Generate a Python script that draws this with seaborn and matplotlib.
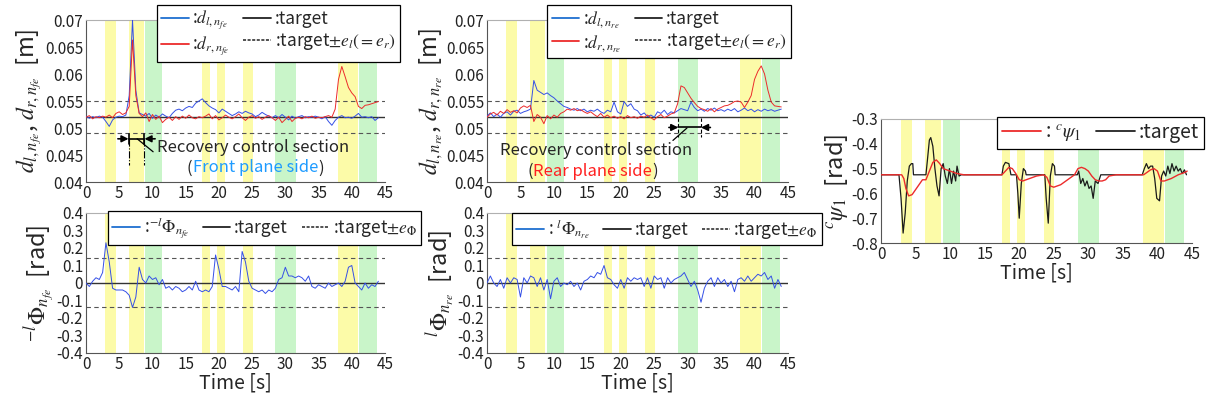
import numpy as np
import pandas as pd
import matplotlib
matplotlib.use('Agg')
import matplotlib.pyplot as plt
from matplotlib.ticker import FuncFormatter, MultipleLocator
from matplotlib.lines import Line2D
import seaborn as sns

#%% Daten

# Zeitachse für die verrauschten Signale (0.5 s Schritte)
t_grid = np.arange(0, 44.5, 0.5)

# farbige Abschnitte (gelb / grün)
yellow_start = [2.9, 6.4, 17.5, 19.7, 23.6, 37.9]
yellow_end = [4.5, 8.7, 18.7, 20.9, 25.1, 40.9]
green_start = [8.9, 28.5, 41.1]
green_end = [11.5, 31.6, 43.8]

# vorne: Abstand links / rechts [m]
d_l_fe = [0.0522, 0.0518, 0.0521, 0.0519, 0.0522, 0.0520, 0.0512, 0.0503, 0.0515, 0.0520,
          0.0522, 0.0521, 0.0524, 0.0560, 0.0700, 0.0570, 0.0528, 0.0525, 0.0522, 0.0527,
          0.0518, 0.0524, 0.0520, 0.0526, 0.0522, 0.0519, 0.0527, 0.0533, 0.0535, 0.0532,
          0.0537, 0.0540, 0.0538, 0.0546, 0.0550, 0.0554, 0.0547, 0.0541, 0.0537, 0.0534,
          0.0528, 0.0535, 0.0531, 0.0527, 0.0523, 0.0526, 0.0530, 0.0527, 0.0531, 0.0528,
          0.0526, 0.0521, 0.0524, 0.0529, 0.0525, 0.0522, 0.0519, 0.0523, 0.0519, 0.0525,
          0.0520, 0.0515, 0.0522, 0.0518, 0.0521, 0.0523, 0.0519, 0.0521, 0.0520, 0.0522,
          0.0520, 0.0517, 0.0521, 0.0512, 0.0505, 0.0514, 0.0520, 0.0523, 0.0519, 0.0520,
          0.0518, 0.0522, 0.0527, 0.0520, 0.0521, 0.0519, 0.0521, 0.0514, 0.0519]
d_r_fe = [0.0520, 0.0523, 0.0517, 0.0521, 0.0519, 0.0522, 0.0520, 0.0524, 0.0519, 0.0527,
          0.0530, 0.0525, 0.0528, 0.0540, 0.0663, 0.0560, 0.0527, 0.0521, 0.0528, 0.0512,
          0.0525, 0.0516, 0.0522, 0.0510, 0.0516, 0.0520, 0.0514, 0.0521, 0.0516, 0.0522,
          0.0518, 0.0524, 0.0519, 0.0517, 0.0521, 0.0519, 0.0522, 0.0526, 0.0517, 0.0523,
          0.0515, 0.0519, 0.0524, 0.0520, 0.0517, 0.0521, 0.0526, 0.0519, 0.0514, 0.0520,
          0.0523, 0.0518, 0.0521, 0.0516, 0.0520, 0.0523, 0.0519, 0.0514, 0.0520, 0.0510,
          0.0516, 0.0522, 0.0512, 0.0518, 0.0520, 0.0517, 0.0521, 0.0519, 0.0522, 0.0518,
          0.0520, 0.0519, 0.0521, 0.0523, 0.0520, 0.0535, 0.0590, 0.0614, 0.0595, 0.0575,
          0.0565, 0.0558, 0.0540, 0.0536, 0.0542, 0.0543, 0.0545, 0.0547, 0.0549]

# vorne: Winkel [rad]
phi_fe = [0.00, -0.02, 0.01, 0.03, 0.02, 0.06, 0.23, 0.12, -0.03, -0.04,
          -0.04, -0.04, -0.05, -0.07, -0.14, -0.08, 0.09, 0.02, 0.00, 0.04,
          0.02, 0.03, -0.01, 0.02, -0.03, -0.02, -0.04, -0.02, -0.03, -0.05,
          -0.04, -0.02, -0.04, 0.01, -0.04, -0.05, -0.04, -0.05, -0.02, 0.16,
          0.08, -0.02, -0.02, -0.03, -0.04, -0.02, -0.05, 0.18, 0.12, 0.01,
          -0.03, -0.04, -0.05, -0.04, -0.06, -0.04, -0.05, -0.03, 0.02, 0.03,
          0.09, 0.04, 0.04, 0.03, 0.04, 0.03, 0.01, 0.04, -0.02, -0.03,
          -0.01, -0.02, -0.03, 0.00, -0.02, -0.01, 0.00, -0.02, 0.01, 0.09,
          0.10, 0.00, -0.02, -0.04, 0.00, -0.03, -0.01, -0.02, 0.01]

# hinten: Abstand links / rechts [m]
d_l_re = [0.0522, 0.0528, 0.0521, 0.0526, 0.0520, 0.0527, 0.0530, 0.0524, 0.0531, 0.0533,
          0.0527, 0.0530, 0.0532, 0.0535, 0.0588, 0.0570, 0.0566, 0.0562, 0.0565, 0.0560,
          0.0556, 0.0550, 0.0545, 0.0540, 0.0538, 0.0535, 0.0533, 0.0536, 0.0532, 0.0535,
          0.0530, 0.0533, 0.0531, 0.0535, 0.0530, 0.0527, 0.0533, 0.0530, 0.0548, 0.0530,
          0.0526, 0.0549, 0.0540, 0.0545, 0.0535, 0.0532, 0.0524, 0.0528, 0.0521, 0.0524,
          0.0520, 0.0530, 0.0527, 0.0533, 0.0525, 0.0530, 0.0528, 0.0532, 0.0536, 0.0534,
          0.0532, 0.0548, 0.0538, 0.0532, 0.0535, 0.0531, 0.0536, 0.0533, 0.0537, 0.0532,
          0.0534, 0.0531, 0.0535, 0.0532, 0.0536, 0.0530, 0.0533, 0.0537, 0.0532, 0.0535,
          0.0530, 0.0534, 0.0531, 0.0535, 0.0532, 0.0534, 0.0531, 0.0533, 0.0535]
d_r_re = [0.0520, 0.0526, 0.0529, 0.0524, 0.0531, 0.0527, 0.0534, 0.0529, 0.0532, 0.0528,
          0.0537, 0.0541, 0.0538, 0.0542, 0.0512, 0.0525, 0.0520, 0.0508, 0.0523, 0.0517,
          0.0524, 0.0520, 0.0527, 0.0530, 0.0535, 0.0533, 0.0536, 0.0532, 0.0534, 0.0530,
          0.0527, 0.0530, 0.0525, 0.0521, 0.0527, 0.0520, 0.0524, 0.0519, 0.0522, 0.0518,
          0.0521, 0.0517, 0.0523, 0.0519, 0.0521, 0.0518, 0.0522, 0.0520, 0.0524, 0.0519,
          0.0515, 0.0521, 0.0525, 0.0519, 0.0522, 0.0526, 0.0528, 0.0545, 0.0578, 0.0575,
          0.0565, 0.0555, 0.0547, 0.0540, 0.0536, 0.0534, 0.0531, 0.0536, 0.0530, 0.0535,
          0.0538, 0.0541, 0.0542, 0.0545, 0.0549, 0.0550, 0.0548, 0.0538, 0.0548, 0.0560,
          0.0590, 0.0605, 0.0615, 0.0600, 0.0570, 0.0548, 0.0541, 0.0540, 0.0539]

# hinten: Winkel [rad]
phi_re = [0.00, 0.04, 0.00, -0.02, 0.02, -0.03, 0.03, 0.00, 0.03, 0.02,
          -0.08, 0.03, 0.00, 0.04, 0.03, -0.02, 0.03, -0.04, 0.02, -0.09,
          0.01, 0.03, -0.02, 0.00, -0.01, 0.01, -0.02, 0.00, -0.04, 0.01,
          0.02, 0.04, 0.03, 0.06, 0.05, 0.10, 0.03, 0.02, -0.01, -0.03,
          0.02, -0.03, 0.03, 0.01, 0.03, 0.02, 0.03, -0.02, 0.03, -0.03,
          0.04, 0.02, 0.03, -0.03, 0.03, 0.00, 0.02, 0.03, 0.04, 0.06,
          0.02, -0.02, 0.01, -0.04, -0.11, -0.03, 0.01, 0.03, -0.02, 0.03,
          0.00, 0.02, -0.02, 0.01, -0.05, 0.02, 0.03, 0.01, 0.04, 0.01,
          0.03, 0.05, 0.04, 0.06, 0.02, 0.04, -0.03, 0.02, -0.02]

# psi: Zielwert (schwarz) und Istwert (rot)
psi_target_time = [0, 2.6, 2.9, 3.2, 3.5, 3.8, 4.1, 4.4, 4.6, 4.7, 6.5, 6.7, 7.0, 7.2, 7.5, 7.8,
                   8.1, 8.4, 8.7, 9.0, 9.3, 9.6, 9.9, 10.2, 10.5, 10.8, 11.0, 11.3, 11.6,
                   17.5, 17.7, 18.0, 18.5, 18.8, 19.6, 19.8, 20.0, 20.3, 20.6, 20.9, 21.0,
                   23.7, 23.9, 24.2, 24.5, 24.8, 25.1, 25.2, 28.4, 28.6, 28.9, 29.2, 29.5,
                   29.8, 30.1, 30.4, 30.7, 31.0, 31.4, 31.8, 37.8, 38.1, 38.4, 38.7, 39.0,
                   39.3, 39.6, 39.9, 40.3, 40.6, 40.9, 41.2, 41.5, 41.8, 42.1, 42.4, 42.7,
                   43.0, 43.3, 43.6, 43.9, 44.2]
psi_target = [-0.525, -0.525, -0.62, -0.76, -0.68, -0.55, -0.49, -0.48, -0.48, -0.525, -0.525,
              -0.47, -0.385, -0.375, -0.41, -0.50, -0.57, -0.61, -0.50, -0.48, -0.53, -0.56,
              -0.50, -0.56, -0.51, -0.55, -0.49, -0.53, -0.525,
              -0.525, -0.49, -0.475, -0.48, -0.525, -0.525, -0.60, -0.70, -0.56, -0.50, -0.51,
              -0.525, -0.525, -0.62, -0.72, -0.53, -0.48, -0.49, -0.525, -0.525, -0.51, -0.56,
              -0.54, -0.57, -0.55, -0.58, -0.57, -0.62, -0.55, -0.56, -0.525, -0.525, -0.50,
              -0.48, -0.50, -0.49, -0.49, -0.54, -0.62, -0.63, -0.53, -0.51, -0.53, -0.49,
              -0.52, -0.48, -0.51, -0.49, -0.51, -0.50, -0.52, -0.505, -0.525]
psi_time = [0, 3.0, 3.3, 3.6, 4.0, 4.5, 5.0, 5.5, 6.0, 6.5, 7.0, 7.5, 8.0, 8.5, 9.0, 9.5, 10.0,
            11.0, 12.0, 17.5, 18.0, 18.5, 19.0, 19.5, 20.0, 20.5, 21.5, 22.5, 23.5, 24.0, 24.5,
            25.0, 26.0, 27.0, 28.0, 28.5, 29.0, 29.5, 30.0, 30.5, 31.0, 31.5, 32.0, 32.5, 33.0,
            34.0, 38.0, 38.5, 39.0, 39.5, 40.0, 40.5, 41.0, 42.0, 43.0, 44.0, 44.3]
psi_1 = [-0.525, -0.525, -0.54, -0.58, -0.61, -0.605, -0.585, -0.565, -0.545, -0.545, -0.51,
         -0.475, -0.465, -0.48, -0.50, -0.505, -0.51, -0.52, -0.525, -0.525, -0.51, -0.495,
         -0.50, -0.52, -0.545, -0.55, -0.54, -0.53, -0.525, -0.535, -0.57, -0.575, -0.565,
         -0.545, -0.525, -0.50, -0.495, -0.50, -0.51, -0.53, -0.545, -0.55, -0.55, -0.545,
         -0.53, -0.525, -0.525, -0.515, -0.505, -0.50, -0.51, -0.55, -0.55, -0.54, -0.525,
         -0.515, -0.51]

# Zielwerte und Toleranzen
d_target = 0.052
e_d = 0.003
phi_target = 0.0
e_phi = 0.14

#%% Stil

sns.set_style('white')
plt.rcParams['font.family'] = ['Noto Sans CJK JP', 'DejaVu Sans']
plt.rcParams['mathtext.fontset'] = 'stix'
plt.rcParams['axes.unicode_minus'] = False

BLUE = '#3550E6'
RED = '#EC2B2B'
YELLOW = '#FCFBA8'
GREEN = '#C9F5C9'
FRONT_BLUE = '#1E9BFF'


def fmt(v, pos):
    return f'{round(v, 4) + 0:g}'


def setup_axes(ax, ylim, ystep):
    for s, e in zip(yellow_start, yellow_end):
        ax.axvspan(s, e, color=YELLOW, lw=0, zorder=0)
    for s, e in zip(green_start, green_end):
        ax.axvspan(s, e, color=GREEN, lw=0, zorder=0)
    ax.set_xlim(0, 45)
    ax.set_ylim(*ylim)
    ax.xaxis.set_major_locator(MultipleLocator(5))
    ax.yaxis.set_major_locator(MultipleLocator(ystep))
    ax.yaxis.set_major_formatter(FuncFormatter(fmt))
    ax.tick_params(direction='in', length=3, labelsize=11, colors='#222222', pad=2)
    ax.spines['right'].set_visible(False)
    ax.spines['top'].set_color('#b0b0b0')
    for s in ['left', 'bottom']:
        ax.spines[s].set_color('#555555')
        ax.spines[s].set_linewidth(0.8)


def ref_lines(ax, target, err):
    ax.axhline(target, color='#333333', lw=1.0, zorder=2)
    ax.axhline(target + err, color='#555555', lw=0.8, ls=(0, (4, 3)), zorder=2)
    ax.axhline(target - err, color='#555555', lw=0.8, ls=(0, (4, 3)), zorder=2)


def make_legend(ax, handles, labels, anchor, ncol, size=12.5, hlen=1.6):
    leg = ax.legend(handles, labels, loc='upper left', bbox_to_anchor=anchor, ncol=ncol,
                    fontsize=size, frameon=True, fancybox=False, framealpha=1,
                    edgecolor='black', borderaxespad=0, handlelength=hlen,
                    handletextpad=0.2, columnspacing=0.8, labelspacing=0.15,
                    borderpad=0.25)
    leg.get_frame().set_linewidth(0.9)
    leg.set_zorder(10)


h_blue = Line2D([], [], color='#1f6fd0', lw=1.3)
h_red = Line2D([], [], color=RED, lw=1.3)
h_black = Line2D([], [], color='#222222', lw=1.3)
h_dash = Line2D([], [], color='#222222', lw=1.1, ls=(0, (2, 1)))

fig = plt.figure(figsize=(12.13, 4.05), dpi=100)
ax1 = fig.add_axes([0.0709, 0.5506, 0.2465, 0.400])
ax2 = fig.add_axes([0.0709, 0.1284, 0.2465, 0.3457])
ax3 = fig.add_axes([0.4015, 0.5506, 0.2481, 0.400])
ax4 = fig.add_axes([0.4015, 0.1284, 0.2481, 0.3457])
ax5 = fig.add_axes([0.7263, 0.4000, 0.2564, 0.3062])

#%% Abstand vorne

setup_axes(ax1, (0.04, 0.07), 0.005)
ref_lines(ax1, d_target, e_d)
sns.lineplot(x=t_grid, y=d_l_fe, ax=ax1, color=BLUE, lw=0.7, legend=False, zorder=3)
sns.lineplot(x=t_grid, y=d_r_fe, ax=ax1, color=RED, lw=0.7, legend=False, zorder=3)
ax1.set_ylabel('$d_{l,n_{fe}}$, $d_{r,n_{fe}}$  [m]', fontsize=17, labelpad=1)
make_legend(ax1, [h_blue, h_red, h_black, h_dash],
            [':$d_{l,n_{fe}}$', ':$d_{r,n_{fe}}$', ':target', ':target$\\pm e_l(=e_r)$'],
            (0.237, 1.093), 2)

# Markierung des Wiederherstellungsabschnitts
arrow = dict(arrowstyle='-|>', color='k', lw=1.2, mutation_scale=10, shrinkA=0, shrinkB=0)
ax1.annotate('', xy=(6.4, 0.048), xytext=(4.8, 0.048), arrowprops=arrow)
ax1.annotate('', xy=(8.8, 0.048), xytext=(10.4, 0.048), arrowprops=arrow)
ax1.plot([6.4, 8.8], [0.048, 0.048], color='k', lw=1.2)
for xb in [6.4, 8.8]:
    ax1.plot([xb, xb], [0.0489, 0.0471], color='k', lw=1.2)
    ax1.plot([xb, xb], [0.048, 0.0432], color='k', lw=0.8, ls='-.')
ax1.plot([7.7, 10.1], [0.0480, 0.0456], color='k', lw=0.9)
ax1.text(10.7, 0.0463, 'Recovery control section', fontsize=12, va='center', ha='left')
p1 = ax1.text(15.2, 0.0426, '(', fontsize=12, va='center', ha='left')
p2 = ax1.annotate('Front plane side', xy=(1, 0), xycoords=p1, va='bottom', fontsize=12,
                  color=FRONT_BLUE)
ax1.annotate(')', xy=(1, 0), xycoords=p2, va='bottom', fontsize=12)

#%% Winkel vorne

setup_axes(ax2, (-0.4, 0.4), 0.1)
ref_lines(ax2, phi_target, e_phi)
sns.lineplot(x=t_grid, y=phi_fe, ax=ax2, color=BLUE, lw=0.7, legend=False, zorder=3)
ax2.set_ylabel('${}^{-l}\\mathit{\\Phi}_{n_{fe}}$  [rad]', fontsize=17, labelpad=1)
ax2.set_xlabel('Time [s]', fontsize=14, labelpad=0)
make_legend(ax2, [h_blue, h_black, h_dash],
            [':${}^{-l}\\mathit{\\Phi}_{n_{fe}}$', ':target', ':target$\\pm e_{\\mathit{\\Phi}}$'],
            (0.074, 1.014), 3)

#%% Abstand hinten

setup_axes(ax3, (0.04, 0.07), 0.005)
ref_lines(ax3, d_target, e_d)
sns.lineplot(x=t_grid, y=d_l_re, ax=ax3, color=BLUE, lw=0.7, legend=False, zorder=3)
sns.lineplot(x=t_grid, y=d_r_re, ax=ax3, color=RED, lw=0.7, legend=False, zorder=3)
ax3.set_ylabel('$d_{l,n_{re}}$, $d_{r,n_{re}}$  [m]', fontsize=17, labelpad=1)
make_legend(ax3, [h_blue, h_red, h_black, h_dash],
            [':$d_{l,n_{re}}$', ':$d_{r,n_{re}}$', ':target', ':target$\\pm e_l(=e_r)$'],
            (0.2, 1.093), 2)

ax3.annotate('', xy=(28.6, 0.0501), xytext=(27.2, 0.0501), arrowprops=arrow)
ax3.annotate('', xy=(32.0, 0.0501), xytext=(33.4, 0.0501), arrowprops=arrow)
ax3.plot([28.6, 32.0], [0.0501, 0.0501], color='k', lw=1.2)
for xb in [28.6, 32.0]:
    ax3.plot([xb, xb], [0.0518, 0.0483], color='k', lw=0.8, ls=(0, (3, 2)))
ax3.plot([29.9, 27.8], [0.0500, 0.0477], color='k', lw=0.9)
ax3.text(16.3, 0.0459, 'Recovery control section', fontsize=12, va='center', ha='center')
q1 = ax3.text(6.1, 0.0420, '(', fontsize=12, va='center', ha='left')
q2 = ax3.annotate('Rear plane side', xy=(1, 0), xycoords=q1, va='bottom', fontsize=12,
                  color='#FF2020')
ax3.annotate(')', xy=(1, 0), xycoords=q2, va='bottom', fontsize=12)

#%% Winkel hinten

setup_axes(ax4, (-0.4, 0.4), 0.1)
ref_lines(ax4, phi_target, e_phi)
sns.lineplot(x=t_grid, y=phi_re, ax=ax4, color=BLUE, lw=0.7, legend=False, zorder=3)
ax4.set_ylabel('${}^{l}\\mathit{\\Phi}_{n_{re}}$  [rad]', fontsize=17, labelpad=1)
ax4.set_xlabel('Time [s]', fontsize=14, labelpad=0)
make_legend(ax4, [h_blue, h_black, h_dash],
            [': ${}^{l}\\mathit{\\Phi}_{n_{re}}$', ':target', ':target$\\pm e_{\\mathit{\\Phi}}$'],
            (0.083, 1.0), 3)

#%% psi

setup_axes(ax5, (-0.8, -0.3), 0.1)
sns.lineplot(x=psi_target_time, y=psi_target, ax=ax5, color='#1a1a1a', lw=0.9,
             legend=False, zorder=3)
sns.lineplot(x=psi_time, y=psi_1, ax=ax5, color=RED, lw=1.0, legend=False, zorder=4)
ax5.set_ylabel('${}^{c}\\psi_1$  [rad]', fontsize=17, labelpad=1)
ax5.set_xlabel('Time [s]', fontsize=14, labelpad=0)
make_legend(ax5, [h_red, h_black], [': ${}^{c}\\psi_1$', ':target'], (0.373, 1.016), 2,
            size=14, hlen=2.0)

fig.savefig('out.png', dpi=100)
